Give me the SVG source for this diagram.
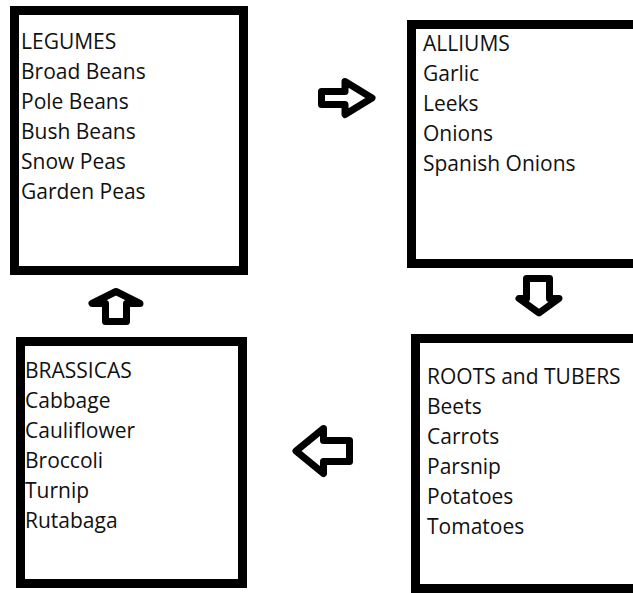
<svg xmlns="http://www.w3.org/2000/svg" width="633" height="593" viewBox="0 0 633 593">
<style>
.box{fill:#fff;stroke:#000;stroke-width:9}
.t{font-family:"Open Sans","Noto Sans",sans-serif;font-size:21px;fill:#111}
.arrow{fill:#fff;stroke:#000;stroke-width:7;stroke-linejoin:round}
</style>
<rect width="633" height="593" fill="#fff"/>
<g id="legumes">
<rect class="box" x="14.5" y="10.5" width="229" height="260"/>
<text class="t" x="21" y="49">LEGUMES</text>
<text class="t" x="21" y="79">Broad Beans</text>
<text class="t" x="21" y="109">Pole Beans</text>
<text class="t" x="21" y="139">Bush Beans</text>
<text class="t" x="21" y="169">Snow Peas</text>
<text class="t" x="21" y="199">Garden Peas</text>
</g>
<g id="alliums">
<rect class="box" x="411.5" y="24.5" width="240" height="239"/>
<text class="t" x="423" y="51">ALLIUMS</text>
<text class="t" x="423" y="81">Garlic</text>
<text class="t" x="423" y="111">Leeks</text>
<text class="t" x="423" y="141">Onions</text>
<text class="t" x="423" y="171">Spanish Onions</text>
</g>
<g id="roots">
<rect class="box" x="415.5" y="338.5" width="240" height="250"/>
<text class="t" x="427" y="384">ROOTS and TUBERS</text>
<text class="t" x="427" y="414">Beets</text>
<text class="t" x="427" y="444">Carrots</text>
<text class="t" x="427" y="474">Parsnip</text>
<text class="t" x="427" y="504">Potatoes</text>
<text class="t" x="427" y="534">Tomatoes</text>
</g>
<g id="brassicas">
<rect class="box" x="20.5" y="341.5" width="222" height="242"/>
<text class="t" x="25" y="378">BRASSICAS</text>
<text class="t" x="25" y="408">Cabbage</text>
<text class="t" x="25" y="438">Cauliflower</text>
<text class="t" x="25" y="468">Broccoli</text>
<text class="t" x="25" y="498">Turnip</text>
<text class="t" x="25" y="528">Rutabaga</text>
</g>
<g id="connectors">
<polygon class="arrow" points="321.5,91.5 345,91.5 345,81.5 372,98 345,114.5 345,104.5 321.5,104.5"/>
<polygon class="arrow" points="526.5,278.5 549.5,278.5 549.5,298.5 559,298.5 539,313 519,298.5 526.5,298.5"/>
<polygon class="arrow" points="349.5,440.5 323.5,440.5 323.5,428.5 296,451 323.5,473.5 323.5,461.5 349.5,461.5"/>
<polygon class="arrow" points="105.5,321.5 126.5,321.5 126.5,303.5 140,303.5 116,291.5 92,303.5 105.5,303.5"/>
</g>
</svg>
